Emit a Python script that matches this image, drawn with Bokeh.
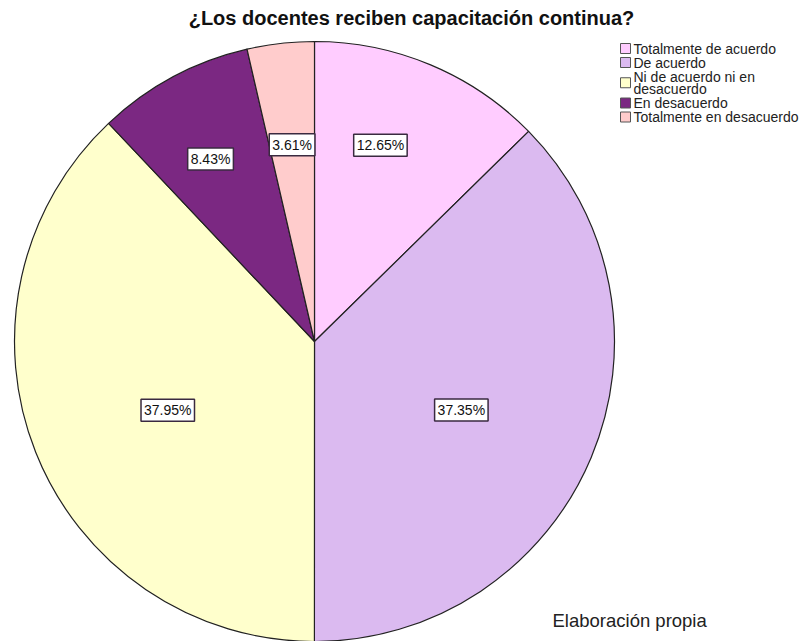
import math
from bokeh.plotting import figure
from bokeh.models import Range1d, ColumnDataSource
from bokeh.core.properties import value
from bokeh.embed import file_html
from bokeh.resources import INLINE

# ---- data ----
title = "¿Los docentes reciben capacitación continua?"
categories = ["Totalmente de acuerdo", "De acuerdo", "Ni de acuerdo ni en desacuerdo",
              "En desacuerdo", "Totalmente en desacuerdo"]
legend_lines = [["Totalmente de acuerdo"], ["De acuerdo"], ["Ni de acuerdo ni en", "desacuerdo"],
                ["En desacuerdo"], ["Totalmente en desacuerdo"]]
percents = [12.65, 37.35, 37.95, 8.43, 3.61]
colors = ["#FFCCFF", "#DBBAF0", "#FFFFCC", "#7B2882", "#FFCCCC"]
note = "Elaboración propia"

# ---- style / layout ----
W, H = 803, 641
label_r = [0.69, 0.54, 0.54, 0.70, 0.66]
label_shift = [4.2, -2.2, 3.4, 1.5, 0.0]   # degrees, counter-clockwise
cx, cy, R = 314, 300, 300

p = figure(width=W, height=H, output_backend="svg", toolbar_location=None,
           x_range=Range1d(0, W), y_range=Range1d(641 - H, 641),
           min_border=0, outline_line_color=None)
p.axis.visible = False
p.grid.visible = False
p.background_fill_color = "white"

starts, ends, lx, ly, ltxt = [], [], [], [], []
total = sum(percents)
cum = 0.0
for i, v in enumerate(percents):
    a0 = math.pi / 2 - 2 * math.pi * cum / total
    cum += v
    a1 = math.pi / 2 - 2 * math.pi * cum / total
    starts.append(a0)
    ends.append(a1)
    mid = (a0 + a1) / 2 + math.radians(label_shift[i])
    lx.append(cx + R * label_r[i] * math.cos(mid))
    ly.append(cy + R * label_r[i] * math.sin(mid))
    ltxt.append(f"{v:.2f}%")

src = ColumnDataSource(dict(s=starts, e=ends, c=colors, cat=categories))
p.wedge(x=cx, y=cy, radius=R, start_angle="s", end_angle="e", direction="clock",
        fill_color="c", line_color="#222222", line_width=1.2, source=src)

p.text(x=lx, y=ly, text=ltxt, text_align="center", text_baseline="middle",
       text_font=value("Liberation Sans"), text_font_size="14px", text_color="#111111",
       background_fill_color="white", border_line_color="#3a2a40", border_line_width=1.5,
       padding=3)

# title
p.text(x=[411], y=[641 - 17], text=[title], text_align="center", text_baseline="middle",
       text_font=value("Liberation Sans"), text_font_style="bold", text_font_size="20px",
       text_color="#111111")

# legend
sx, sw = 620, 10
line_h = 12.5
ypos = 48
sq_x, sq_y, tx, ty, tt = [], [], [], [], []
for i, lines in enumerate(legend_lines):
    n = len(lines)
    center = ypos + (n - 1) * line_h / 2
    sq_x.append(sx + sw / 2)
    sq_y.append(641 - center)
    for j, ln in enumerate(lines):
        tx.append(sx + sw + 3)
        ty.append(641 - (ypos + j * line_h))
        tt.append(ln)
    ypos += n * line_h + 1.5
p.rect(x=sq_x, y=sq_y, width=sw, height=sw, fill_color=colors, line_color="#555555", line_width=1)
p.text(x=tx, y=ty, text=tt, text_align="left", text_baseline="middle",
       text_font=value("Liberation Sans"), text_font_size="14px", text_color="#222222")

# note
p.text(x=[552], y=[641 - 620], text=[note], text_align="left", text_baseline="middle",
       text_font=value("Liberation Sans"), text_font_size="18.5px", text_color="#222222")

open("out.html", "w").write(file_html(p, INLINE))
